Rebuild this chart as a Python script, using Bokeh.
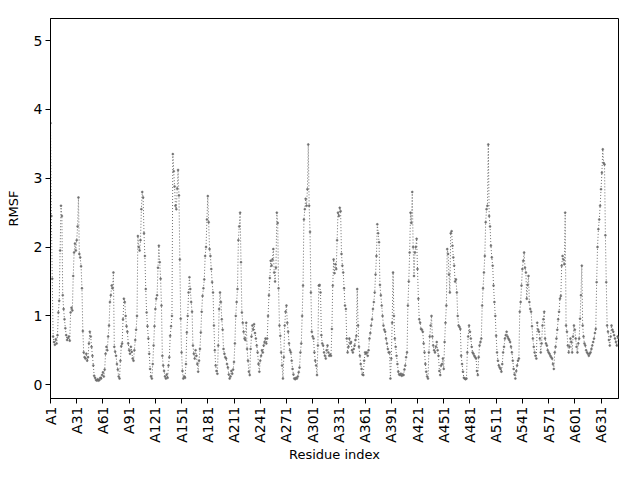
import math
from bokeh.plotting import figure
from bokeh.models import FixedTicker, ColumnDataSource
from bokeh.embed import file_html
from bokeh.resources import INLINE

# RMSF per residue (index 0 -> A1)
rmsf = [
    3.80, 2.45, 1.54, 0.70, 0.62, 0.58, 0.66, 0.60, 0.72, 1.05,
    1.22, 1.95, 2.60, 2.45, 1.30, 1.10, 0.95, 0.82, 0.72, 0.65,
    0.68, 0.70, 0.64, 1.05, 1.12, 1.08, 1.58, 1.92, 2.05, 1.95,
    2.10, 2.30, 2.72, 1.90, 1.85, 1.72, 1.40, 0.78, 0.47, 0.40,
    0.38, 0.45, 0.35, 0.40, 0.60, 0.77, 0.70, 0.55, 0.42, 0.28,
    0.13, 0.10, 0.07, 0.06, 0.08, 0.06, 0.07, 0.10, 0.09, 0.14,
    0.18, 0.12, 0.22, 0.45, 0.55, 0.50, 0.70, 0.86, 1.20, 1.30,
    1.44, 1.40, 1.63, 0.55, 0.48, 0.42, 0.30, 0.22, 0.12, 0.09,
    0.35, 0.56, 0.60, 0.95, 1.25, 1.20, 1.00, 0.85, 0.77, 0.60,
    0.50, 0.45, 0.55, 0.48, 0.38, 0.35, 0.50, 0.65, 0.80, 1.00,
    2.16, 2.00, 1.95, 2.10, 2.55, 2.80, 2.72, 2.20, 1.87, 1.39,
    1.05, 0.85, 0.67, 0.45, 0.23, 0.12, 0.09, 0.30, 0.57, 0.85,
    1.10, 1.25, 1.30, 1.70, 2.02, 1.78, 1.54, 1.15, 0.42, 0.28,
    0.20, 0.12, 0.09, 0.15, 0.10, 0.28, 0.40, 0.71, 0.85, 1.00,
    3.35, 3.10, 2.88, 2.60, 2.55, 2.85, 3.12, 2.75, 1.82, 0.96,
    0.47, 0.20, 0.09, 0.12, 0.10, 0.30, 0.76, 1.00, 1.34, 1.56,
    1.39, 1.20, 1.06, 0.57, 0.45, 0.38, 0.50, 0.42, 0.30, 0.19,
    0.35, 0.52, 0.76, 1.06, 1.29, 1.40, 1.53, 1.87, 2.00, 2.40,
    2.74, 2.36, 1.97, 1.87, 1.68, 1.49, 1.34, 0.86, 0.50, 0.28,
    0.20, 0.16, 0.57, 1.10, 1.34, 1.20, 0.95, 0.80, 0.52, 0.45,
    0.40, 0.38, 0.30, 0.25, 0.15, 0.09, 0.12, 0.20, 0.16, 0.22,
    0.33, 0.60, 1.00, 1.20, 1.39, 2.10, 2.30, 2.50, 1.78, 1.05,
    0.90, 0.77, 0.67, 0.65, 0.90, 0.52, 0.35, 0.19, 0.14, 0.52,
    0.70, 0.86, 0.80, 0.88, 0.75, 0.67, 0.57, 0.47, 0.30, 0.19,
    0.35, 0.42, 0.50, 0.47, 0.57, 0.62, 0.67, 0.60, 0.67, 1.00,
    1.30, 1.55, 1.80, 1.73, 1.82, 1.97, 1.63, 1.50, 1.70, 2.50,
    2.35, 1.40, 0.86, 0.71, 0.47, 0.28, 0.09, 0.40, 0.86, 1.06,
    1.15, 0.90, 0.77, 0.60, 0.50, 0.47, 0.35, 0.23, 0.15, 0.09,
    0.08, 0.10, 0.09, 0.12, 0.18, 0.25, 0.47, 0.60, 1.00, 1.44,
    2.40, 2.55, 2.70, 2.60, 2.84, 3.49, 2.60, 2.22, 1.34, 0.77,
    0.70, 0.67, 0.47, 0.35, 0.28, 0.14, 0.57, 1.44, 1.45, 1.34,
    0.72, 0.60, 0.57, 0.47, 0.42, 0.38, 0.50, 0.57, 0.47, 0.42,
    0.44, 0.42, 0.81, 1.44, 1.82, 1.62, 1.75, 1.68, 2.10, 2.50,
    2.45, 2.57, 2.52, 1.90, 1.73, 1.63, 1.40, 1.15, 1.10, 0.67,
    0.47, 0.55, 0.67, 0.60, 0.62, 0.50, 0.47, 0.52, 0.57, 0.65,
    0.71, 1.39, 0.86, 0.55, 0.42, 0.30, 0.23, 0.15, 0.14, 0.35,
    0.47, 0.45, 0.47, 0.42, 0.50, 0.67, 0.75, 0.86, 0.95, 1.10,
    1.20, 1.34, 1.60, 1.87, 2.33, 2.20, 2.07, 1.45, 1.30, 1.15,
    1.00, 0.86, 0.80, 0.77, 0.67, 0.60, 0.52, 0.47, 0.47, 0.09,
    0.38, 0.90, 1.63, 1.00, 0.67, 0.55, 0.42, 0.30, 0.19, 0.15,
    0.14, 0.16, 0.13, 0.15, 0.14, 0.22, 0.28, 0.40, 0.47, 1.15,
    1.50, 1.92, 2.50, 2.35, 2.80, 2.00, 1.58, 1.92, 2.00, 2.12,
    1.68, 1.25, 0.95, 0.90, 0.81, 0.80, 0.77, 0.60, 0.47, 0.30,
    0.19, 0.12, 0.09, 0.47, 0.70, 0.86, 1.00, 0.70, 0.57, 0.50,
    0.47, 0.55, 0.62, 0.50, 0.42, 0.20, 0.14, 0.28, 0.30, 0.38,
    0.23, 0.62, 0.90, 1.15, 1.97, 1.90, 1.60, 1.34, 2.20, 2.23,
    2.02, 1.85, 1.73, 1.50, 1.53, 1.34, 1.00, 0.86, 0.84, 0.81,
    0.42, 0.30, 0.19, 0.10, 0.09, 0.08, 0.09, 0.47, 0.70, 0.86,
    0.77, 0.67, 0.55, 0.47, 0.45, 0.42, 0.40, 0.38, 0.20, 0.14,
    0.40, 0.57, 0.62, 0.67, 1.15, 1.40, 1.63, 1.87, 2.36, 2.55,
    2.60, 3.49, 2.45, 2.30, 2.02, 1.85, 1.73, 1.44, 1.20, 1.00,
    0.71, 0.47, 0.35, 0.28, 0.25, 0.23, 0.19, 0.30, 0.47, 0.55,
    0.67, 0.72, 0.77, 0.70, 0.67, 0.65, 0.62, 0.55, 0.47, 0.35,
    0.23, 0.15, 0.09, 0.20, 0.28, 0.35, 0.38, 1.06, 1.20, 1.44,
    1.68, 1.80, 1.92, 1.70, 1.63, 1.25, 1.45, 1.58, 1.20, 1.10,
    1.06, 0.85, 0.67, 0.55, 0.47, 0.42, 0.38, 0.90, 0.80, 0.77,
    0.67, 0.47, 0.60, 0.86, 0.95, 1.06, 0.67, 0.60, 0.57, 0.50,
    0.47, 0.45, 0.42, 0.40, 0.38, 0.30, 0.23, 0.47, 0.55, 0.67,
    0.80, 0.95, 1.06, 1.25, 1.29, 1.73, 1.87, 1.82, 1.75, 2.50,
    0.86, 0.77, 0.57, 0.47, 0.55, 0.67, 0.62, 0.47, 0.70, 0.86,
    0.80, 0.67, 0.55, 0.47, 0.60, 0.67, 0.96, 1.30, 1.73, 0.86,
    0.70, 0.60, 0.57, 0.50, 0.47, 0.45, 0.42, 0.45, 0.47, 0.52,
    0.57, 0.62, 0.67, 0.75, 0.81, 1.49, 2.00, 2.26, 2.40, 2.60,
    2.84, 3.08, 3.42, 3.22, 3.20, 2.17, 1.49, 0.86, 0.77, 0.65,
    0.57, 0.70, 0.86, 0.80, 0.77, 0.72, 0.67, 0.62, 0.57, 0.70,
    0.68,
]
residue_index = list(range(len(rmsf)))
tick_positions = list(range(0, 631, 30))
tick_labels = ["A%d" % (t + 1) for t in tick_positions]

src = ColumnDataSource(data=dict(x=residue_index, y=rmsf))

p = figure(width=624, height=464, output_backend="svg", toolbar_location=None,
           x_range=(0, len(rmsf) - 1), y_range=(-0.2, 5.32))
p.min_border_left = 50
p.min_border_right = 6
p.min_border_top = 18
p.min_border_bottom = 64

color = "#6e6e6e"
p.line("x", "y", source=src, line_color=color, line_width=1, line_dash="1 2")
p.scatter("x", "y", source=src, size=2.0, fill_color=color, line_color=color,
          line_width=0.5)

p.xgrid.visible = False
p.ygrid.visible = False
p.outline_line_color = "black"
p.outline_line_width = 1

p.xaxis.ticker = FixedTicker(ticks=tick_positions)
p.xaxis.major_label_overrides = {t: l for t, l in zip(tick_positions, tick_labels)}
p.xaxis.major_label_orientation = math.pi / 2
p.yaxis.ticker = FixedTicker(ticks=[0, 1, 2, 3, 4, 5])

for ax in (p.xaxis, p.yaxis):
    ax.axis_line_color = "black"
    ax.major_tick_line_color = "black"
    ax.major_tick_out = 5
    ax.major_tick_in = 0
    ax.minor_tick_line_color = None
    ax.major_label_text_font = "DejaVu Sans"
    ax.major_label_text_font_size = "14px"
    ax.major_label_text_color = "black"
    ax.major_label_standoff = 3
    ax.axis_label_text_font = "DejaVu Sans"
    ax.axis_label_text_font_size = "13px"
    ax.axis_label_text_font_style = "normal"
    ax.axis_label_text_color = "black"

p.xaxis.axis_label = "Residue index"
p.yaxis.axis_label = "RMSF"
p.xaxis.axis_label_standoff = 1
p.yaxis.axis_label_standoff = 10

open("out.html", "w").write(file_html(p, INLINE))
